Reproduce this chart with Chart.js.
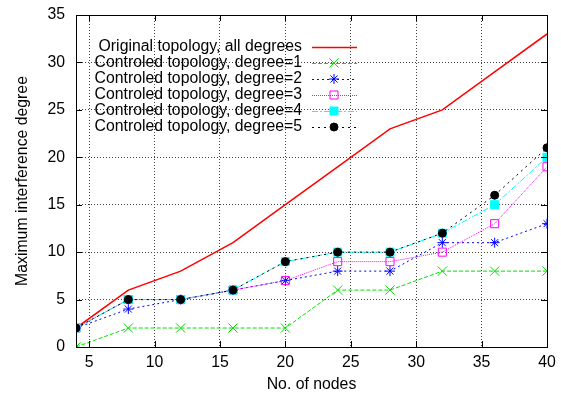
<!DOCTYPE html>
<html>
<head>
<meta charset="utf-8">
<script src="https://cdn.jsdelivr.net/npm/chart.js@4/dist/chart.umd.min.js"></script>
<style>
  html, body { margin:0; padding:0; background:#fff; }
  #wrap { width:561px; height:394px; }
</style>
</head>
<body>
<div id="wrap"><canvas id="c" width="561" height="394"></canvas></div>
<script>
const nodes = [4, 8, 12, 16, 20, 24, 28, 32, 36, 40];
const original = [2, 6, 8, 11, 15, 19, 23, 25, 29, 33];
const deg1 = [0, 2, 2, 2, 2, 6, 6, 8, 8, 8];
const deg2 = [2, 4, 5, 6, 7, 8, 8, 11, 11, 13];
const deg3 = [2, 5, 5, 6, 7, 9, 9, 10, 13, 19];
const deg4 = [2, 5, 5, 6, 9, 10, 10, 12, 15, 20];
const deg5 = [2, 5, 5, 6, 9, 10, 10, 12, 16, 21];
const xTicks = [5, 10, 15, 20, 25, 30, 35, 40];
const yTicks = [0, 5, 10, 15, 20, 25, 30, 35];

const FONT = 'Liberation Sans, Arial, sans-serif';
const FS = 15.8;

function pts(ys){ return ys.map((y,i)=>({x:nodes[i], y:y})); }

function ds(label, ys, color, dash, style, radius, filled, order){
  return {
    label, data: pts(ys), borderColor: color, borderWidth: 1, borderDash: dash,
    pointStyle: style, pointRadius: radius, pointBorderColor: color,
    pointBackgroundColor: filled ? color : 'rgba(0,0,0,0)', pointBorderWidth: 1,
    pointHoverRadius: radius, tension: 0, fill: false, order
  };
}

const datasets = [
  Object.assign(ds('Original topology, all degrees', original, '#ff0000', [], 'circle', 0, false, 6), {borderWidth: 1.5}),
  ds('Controled topology, degree=1', deg1, '#00e000', [4,2], 'crossRot', 6.5, false, 5),
  ds('Controled topology, degree=2', deg2, '#0000ff', [2,3], 'star', 5, false, 4),
  ds('Controled topology, degree=3', deg3, '#ff00ff', [1,1], 'rect', 5.7, false, 3),
  ds('Controled topology, degree=4', deg4, '#00ffff', [6,2,2,2], 'rect', 5.7, true, 2),
  ds('Controled topology, degree=5', deg5, '#000000', [2,4], 'circle', 4, true, 1)
];

// border, inward ticks on all sides, and a gnuplot-style legend
const frame = {
  id: 'frame',
  afterDatasetsDraw(chart){
    const {ctx, chartArea:a, scales:{x, y}} = chart;
    ctx.save();
    ctx.strokeStyle = '#000';
    ctx.lineWidth = 1;
    ctx.setLineDash([]);
    ctx.strokeRect(a.left+0.5, a.top+0.5, a.right-a.left, a.bottom-a.top);
    ctx.beginPath();
    xTicks.forEach(v => {
      const px = Math.round(x.getPixelForValue(v))+0.5;
      ctx.moveTo(px, a.bottom); ctx.lineTo(px, a.bottom-6);
      ctx.moveTo(px, a.top); ctx.lineTo(px, a.top+6);
    });
    yTicks.forEach(v => {
      const py = Math.round(y.getPixelForValue(v))+0.5;
      ctx.moveTo(a.left, py); ctx.lineTo(a.left+6, py);
      ctx.moveTo(a.right, py); ctx.lineTo(a.right-6, py);
    });
    ctx.stroke();

    // legend
    ctx.font = FS + 'px ' + FONT;
    ctx.textAlign = 'right';
    ctx.textBaseline = 'middle';
    const textRight = 302, x0 = 312, x1 = 357, mx = 334;
    chart.data.datasets.forEach((d, i) => {
      const yy = 47 + i*16;
      ctx.fillStyle = '#000';
      ctx.fillText(d.label, textRight, yy);
      ctx.strokeStyle = d.borderColor;
      ctx.lineWidth = d.borderWidth;
      ctx.setLineDash(d.borderDash);
      ctx.beginPath(); ctx.moveTo(x0, yy+0.5); ctx.lineTo(x1, yy+0.5); ctx.stroke();
      ctx.setLineDash([]);
      if (d.pointRadius > 0) {
        ctx.lineWidth = 1;
        ctx.strokeStyle = d.pointBorderColor;
        ctx.fillStyle = d.pointBackgroundColor;
        Chart.helpers.drawPoint(ctx, {pointStyle: d.pointStyle, radius: d.pointRadius, borderWidth: 1, rotation: 0}, mx, yy);
      }
    });
    ctx.restore();
  }
};

function noPad(s){ s.paddingTop = 0; s.paddingBottom = 0; s.paddingLeft = 0; s.paddingRight = 0; }

new Chart(document.getElementById('c'), {
  type: 'line',
  data: { datasets },
  plugins: [frame],
  options: {
    responsive: false,
    animation: false,
    layout: { padding: { left: 0, right: 14, top: 15, bottom: 0 } },
    plugins: { legend: { display: false }, tooltip: { enabled: false } },
    scales: {
      x: {
        type: 'linear', min: 4, max: 40,
        afterBuildTicks: s => { s.ticks = xTicks.map(v => ({value: v})); },
        afterFit: s => { s.height = 47; noPad(s); },
        grid: { color: '#444', lineWidth: 1, drawTicks: false },
        border: { display: false, dash: [1,2] },
        ticks: { color: '#000', font: { family: FONT, size: FS }, padding: 6, maxRotation: 0 },
        title: { display: true, text: 'No. of nodes', color: '#000', font: { family: FONT, size: FS }, padding: { top: 4, bottom: 0 } }
      },
      y: {
        type: 'linear', min: 0, max: 35,
        afterBuildTicks: s => { s.ticks = yTicks.map(v => ({value: v})); },
        afterFit: s => { s.width = 76; noPad(s); },
        grid: { color: '#444', lineWidth: 1, drawTicks: false },
        border: { display: false, dash: [1,2] },
        ticks: { color: '#000', font: { family: FONT, size: FS }, padding: 11 },
        title: { display: true, text: 'Maximum interference degree', color: '#000', font: { family: FONT, size: FS }, padding: { top: 13, bottom: 0 } }
      }
    }
  }
});
</script>
</body>
</html>
